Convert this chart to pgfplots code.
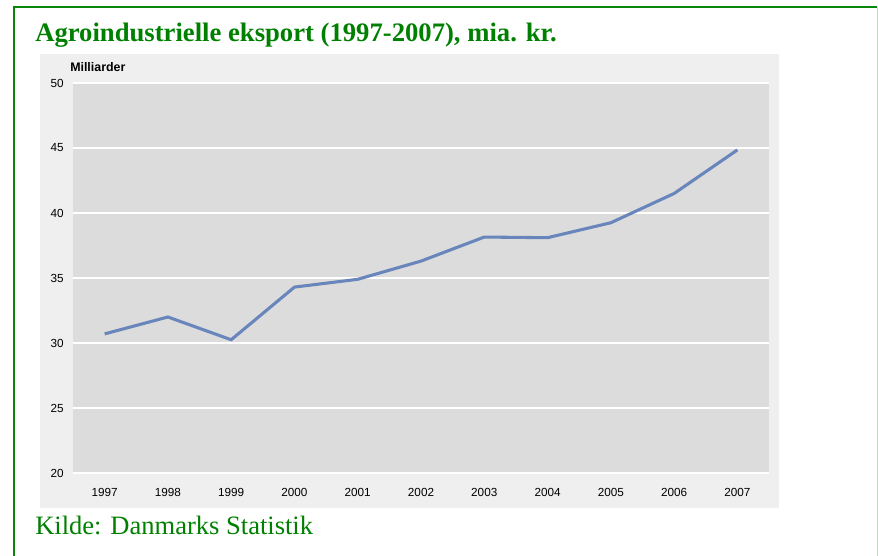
\documentclass[border=0pt]{standalone}
\usepackage{pgfplots}
\pgfplotsset{compat=1.18}
\usepackage{fontspec}
\setmainfont{Liberation Serif}
\newfontfamily\arial{Liberation Sans}
\definecolor{frgreen}{RGB}{10,135,10}
\definecolor{ttlgreen}{RGB}{0,128,0}
\definecolor{outerbg}{RGB}{239,239,239}
\definecolor{plotbg}{RGB}{220,220,220}
\definecolor{linec}{RGB}{104,134,188}
\definecolor{rightedge}{RGB}{190,215,190}
\begin{document}
\begin{tikzpicture}
% canvas 878x556 px at 0.75pt per px
\path[use as bounding box] (0,0) rectangle (658.5pt,417pt);
\fill[outerbg] (30pt,36pt) rectangle (584.25pt,376.5pt);
\draw[frgreen, line width=1.1pt] (10.5pt,0pt) -- (10.5pt,411.75pt) -- (657.75pt,411.75pt);
\draw[rightedge, line width=0.8pt] (657.9pt,411.75pt) -- (657.9pt,0pt);
\node[anchor=base west, inner sep=0pt, text=ttlgreen, font=\fontsize{20}{22}\selectfont\bfseries]
  at (26.25pt,385.5pt) {Agroindustrielle eksport (1997-2007), mia. kr.};
\node[anchor=base west, inner sep=0pt, text=ttlgreen, font=\fontsize{19.9}{22}\selectfont]
  at (26.25pt,15.75pt) {Kilde: Danmarks Statistik};
\node[anchor=base west, inner sep=0pt, font=\arial\fontsize{9.3}{11}\selectfont\bfseries]
  at (52.5pt,363.5pt) {Milliarder};
\begin{axis}[
    at={(54.75pt,62.25pt)}, anchor=south west,
    scale only axis,
    width=522pt, height=292.5pt,
    xmin=1996.5, xmax=2007.5,
    ymin=20, ymax=50,
    xtick={1997,1998,...,2007},
    ytick={20,25,...,50},
    /pgf/number format/1000 sep={},
    /pgf/number format/assume math mode=true,
    axis background/.style={fill=plotbg},
    axis line style={draw=none},
    major tick length=0pt,
    ymajorgrids,
    major grid style={white, line width=1.1pt},
    tick label style={font=\arial\fontsize{8.8}{10}\selectfont},
    xticklabel style={anchor=center, yshift=-14.25pt},
    yticklabel style={anchor=east, inner sep=0pt, xshift=-6.75pt},
    clip=false,
]
\addplot[linec, line width=2.3pt] coordinates {
    (1997,30.7)
    (1998,32.0)
    (1999,30.25)
    (2000,34.3)
    (2001,34.9)
    (2002,36.3)
    (2003,38.15)
    (2004,38.1)
    (2005,39.25)
    (2006,41.5)
    (2007,44.85)
};
\end{axis}
\end{tikzpicture}
\end{document}
